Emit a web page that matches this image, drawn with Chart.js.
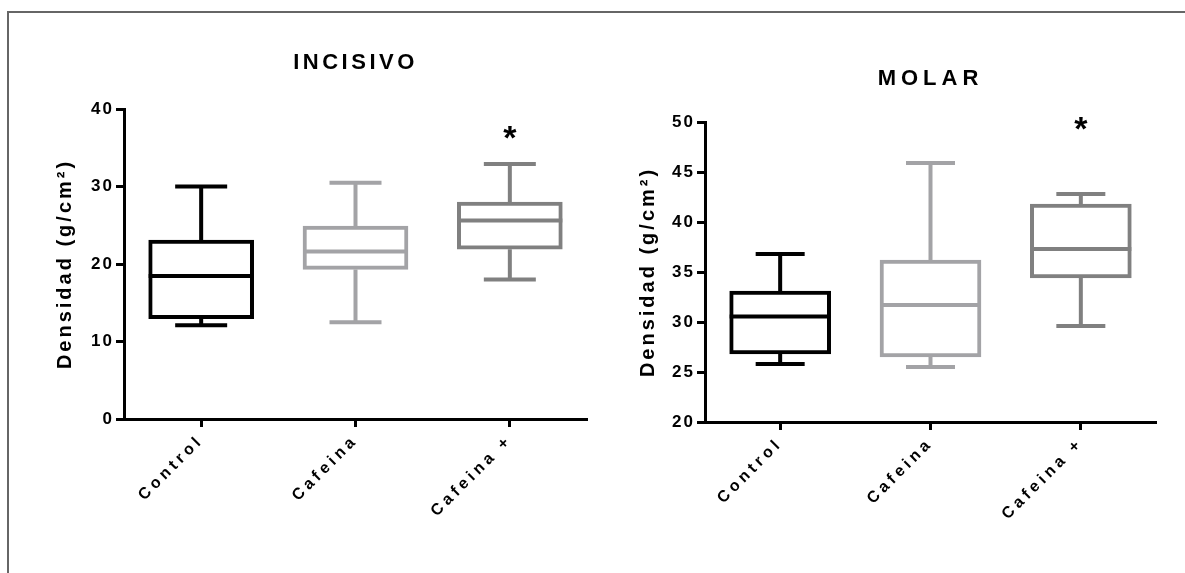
<!DOCTYPE html>
<html lang="es">
<head>
    <meta charset="UTF-8">
    <title>Densidad - Incisivo / Molar</title>
    <script src="https://cdn.jsdelivr.net/npm/chart.js@4.4.1/dist/chart.umd.min.js"></script>
    <style>
        body {
            margin: 0;
            background-color: #fff;
            width: 1185px;
            height: 573px;
            overflow: hidden;
            position: relative;
        }

        .frame {
            position: absolute;
            left: 7px;
            top: 11px;
            width: 1200px;
            height: 600px;
            border-top: 2px solid #666;
            border-left: 2px solid #666;
        }

        canvas {
            position: absolute;
            top: 0;
        }

        #incisivo { left: 0; }
        #molar { left: 600px; }
    </style>
</head>
<body>
    <div class="frame"></div>
    <canvas id="incisivo" width="600" height="573"></canvas>
    <canvas id="molar" width="585" height="573"></canvas>
    <script>
        // groups
        const categories = ['Control', 'Cafeina', 'Cafeina +'];

        // INCISIVO box plot values (min, Q1, median, Q3, max)
        const incisivoMin = [12.1, 12.5, 18.0];
        const incisivoQ1 = [12.95, 19.3, 21.9];
        const incisivoMedian = [18.45, 21.6, 25.6];
        const incisivoQ3 = [23.1, 24.9, 28.0];
        const incisivoMax = [30.0, 30.5, 32.9];
        const incisivoStar = [null, null, 37.4];
        const incisivoTicks = [0, 10, 20, 30, 40];

        // MOLAR box plot values
        const molarMin = [25.8, 25.5, 29.6];
        const molarQ1 = [26.8, 26.5, 34.4];
        const molarMedian = [30.56, 31.7, 37.3];
        const molarQ3 = [33.1, 36.2, 41.8];
        const molarMax = [36.8, 45.9, 42.8];
        const molarStar = [null, null, 50.2];
        const molarTicks = [20, 25, 30, 35, 40, 45, 50];

        const colors = ['#000000', '#a3a3a6', '#808080'];

        Chart.defaults.font.family = '"Liberation Sans", Arial, sans-serif';
        Chart.defaults.color = '#000';

        // Chart.js has no letter spacing option, so wrap the label drawing of each scale
        const spacingPlugin = {
            id: 'spacing',
            beforeDraw(chart) {
                Object.values(chart.scales).forEach(s => {
                    if (s._spaced) return;
                    const tickSpace = s.axis === 'x' ? '4px' : '2px';
                    const drawLabels = s.drawLabels.bind(s);
                    const drawTitle = s.drawTitle.bind(s);
                    s.drawLabels = (area) => {
                        chart.ctx.letterSpacing = tickSpace;
                        drawLabels(area);
                        chart.ctx.letterSpacing = '0px';
                    };
                    s.drawTitle = () => {
                        chart.ctx.letterSpacing = '3px';
                        drawTitle();
                        chart.ctx.letterSpacing = '0px';
                    };
                    s._spaced = true;
                });
            }
        };

        function boxPlugin(stats) {
            return {
                id: 'boxWhiskers',
                afterDatasetsDraw(chart) {
                    const { ctx, scales: { x, y } } = chart;
                    const bars = chart.getDatasetMeta(0).data;
                    ctx.save();
                    ctx.lineWidth = 4;
                    bars.forEach((bar, i) => {
                        const cx = x.getPixelForValue(i);
                        const half = bar.width / 2;
                        const cap = stats.capWidth / 2;
                        const yMin = y.getPixelForValue(stats.min[i]);
                        const yQ1 = y.getPixelForValue(stats.q1[i]);
                        const yMed = y.getPixelForValue(stats.median[i]);
                        const yQ3 = y.getPixelForValue(stats.q3[i]);
                        const yMax = y.getPixelForValue(stats.max[i]);
                        ctx.strokeStyle = colors[i];
                        ctx.beginPath();
                        ctx.moveTo(cx - half, yMed);
                        ctx.lineTo(cx + half, yMed);
                        ctx.moveTo(cx, yQ3);
                        ctx.lineTo(cx, yMax);
                        ctx.moveTo(cx - cap, yMax);
                        ctx.lineTo(cx + cap, yMax);
                        ctx.moveTo(cx, yQ1);
                        ctx.lineTo(cx, yMin);
                        ctx.moveTo(cx - cap, yMin);
                        ctx.lineTo(cx + cap, yMin);
                        ctx.stroke();

                        if (stats.star[i] != null) {
                            const ys = y.getPixelForValue(stats.star[i]);
                            ctx.fillStyle = '#000';
                            ctx.font = 'bold 34px "Liberation Sans", Arial, sans-serif';
                            ctx.textAlign = 'center';
                            ctx.textBaseline = 'alphabetic';
                            ctx.fillText('*', cx, ys + 34 * 0.585);
                        }
                    });
                    ctx.restore();
                },
                afterDraw(chart) {
                    const { ctx, chartArea } = chart;
                    ctx.save();
                    ctx.fillStyle = '#000';
                    ctx.font = 'bold 22px "Liberation Sans", Arial, sans-serif';
                    ctx.letterSpacing = stats.titleSpacing;
                    ctx.textAlign = 'center';
                    ctx.textBaseline = 'middle';
                    ctx.fillText(stats.title, (chartArea.left + chartArea.right) / 2, stats.titleY);
                    ctx.restore();
                }
            };
        }

        function makeChart(id, stats, layout) {
            const ctx = document.getElementById(id).getContext('2d');
            return new Chart(ctx, {
                type: 'bar',
                data: {
                    labels: categories,
                    datasets: [{
                        data: stats.q1.map((v, i) => [v, stats.q3[i]]),
                        backgroundColor: '#fff',
                        borderColor: colors,
                        borderWidth: 4,
                        borderSkipped: false,
                        barThickness: layout.barThickness
                    }]
                },
                options: {
                    responsive: false,
                    animation: false,
                    devicePixelRatio: 1,
                    layout: { padding: layout.padding },
                    plugins: {
                        legend: { display: false },
                        tooltip: { enabled: false }
                    },
                    scales: {
                        x: {
                            offset: true,
                            grid: {
                                offset: false,
                                drawOnChartArea: false,
                                tickLength: 8,
                                tickWidth: 3,
                                tickColor: '#000'
                            },
                            border: { width: 3, color: '#000' },
                            ticks: {
                                maxRotation: 45,
                                minRotation: 45,
                                padding: 4,
                                color: '#000',
                                font: { size: 16, weight: 'bold' }
                            },
                            afterFit: s => { s.height = 100; }
                        },
                        y: {
                            min: stats.ticks[0],
                            max: stats.ticks[stats.ticks.length - 1],
                            afterBuildTicks: s => { s.ticks = stats.ticks.map(v => ({ value: v })); },
                            grid: {
                                drawOnChartArea: false,
                                tickLength: 8,
                                tickWidth: 3,
                                tickColor: '#000'
                            },
                            border: { width: 3, color: '#000' },
                            ticks: {
                                padding: 2,
                                color: '#000',
                                font: { size: 17, weight: 'bold' }
                            },
                            title: {
                                display: true,
                                text: 'Densidad (g/cm²)',
                                color: '#000',
                                font: { size: 20, weight: 'bold' },
                                padding: { top: layout.yTitlePad, bottom: 0 }
                            },
                            afterFit: s => { s.width = layout.yWidth; }
                        }
                    }
                },
                plugins: [spacingPlugin, boxPlugin(stats)]
            });
        }

        makeChart('incisivo', {
            title: 'INCISIVO', titleY: 63, titleSpacing: '3.5px', capWidth: 52,
            min: incisivoMin, q1: incisivoQ1, median: incisivoMedian,
            q3: incisivoQ3, max: incisivoMax, star: incisivoStar, ticks: incisivoTicks
        }, {
            padding: { left: 0, right: 13, top: 109, bottom: 54 },
            yWidth: 124, yTitlePad: 53, barThickness: 105
        });

        makeChart('molar', {
            title: 'MOLAR', titleY: 79, titleSpacing: '5px', capWidth: 49,
            min: molarMin, q1: molarQ1, median: molarMedian,
            q3: molarQ3, max: molarMax, star: molarStar, ticks: molarTicks
        }, {
            padding: { left: 0, right: 29, top: 122, bottom: 51 },
            yWidth: 105, yTitlePad: 36, barThickness: 101
        });
    </script>
</body>
</html>
